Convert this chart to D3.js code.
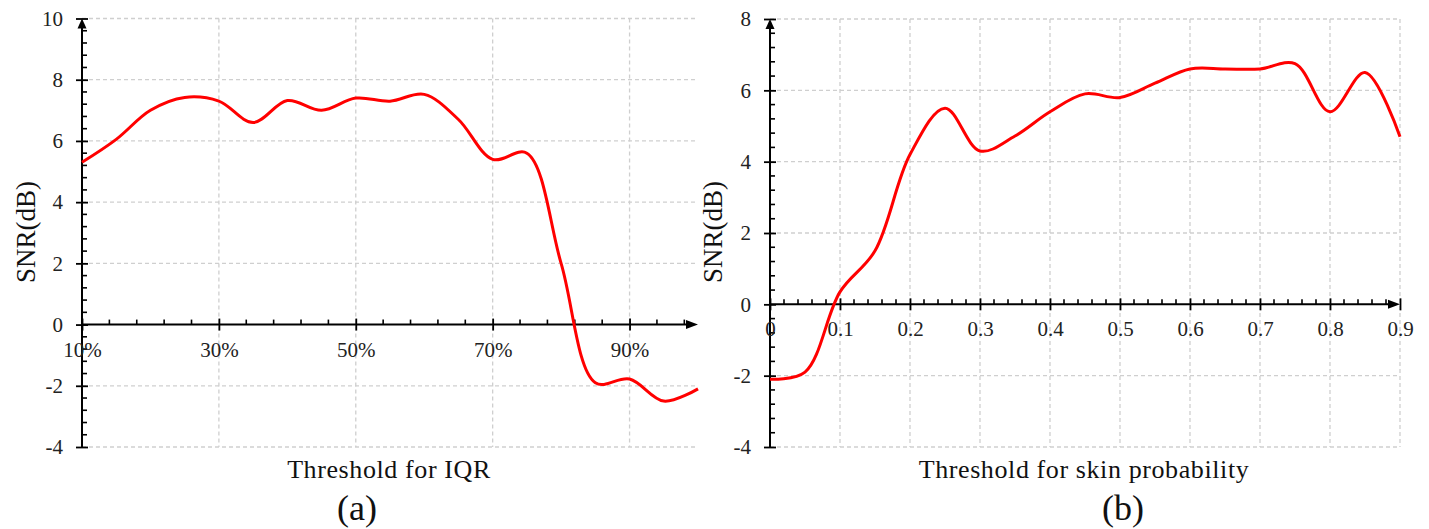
<!DOCTYPE html>
<html><head><meta charset="utf-8">
<script src="https://cdn.jsdelivr.net/npm/d3@7"></script>
<style>html,body{margin:0;padding:0;background:#fff;}svg{display:block;}</style>
</head><body>
<svg id="chart" width="1429" height="529"></svg>
<script>
// ---- Data: panel (a) ----
const iqrThreshold = [10,15,20,25,30,35,40,45,50,55,60,65,70,75,80,85,90,95,100];
const iqrSNR = [5.3,6.05,7.0,7.42,7.3,6.6,7.32,7.0,7.4,7.3,7.52,6.7,5.4,5.6,2.0,-1.9,-1.78,-2.5,-2.1];
const iqrXTicks = [10,30,50,70,90];
const iqrXTickLabels = ["10%","30%","50%","70%","90%"];
const iqrYTicks = [-4,-2,0,2,4,6,8,10];

// ---- Data: panel (b) ----
const skinThreshold = [0,0.05,0.1,0.15,0.2,0.25,0.3,0.35,0.4,0.45,0.5,0.55,0.6,0.65,0.7,0.75,0.8,0.85,0.9];
const skinSNR = [-2.1,-1.9,0.35,1.5,4.2,5.5,4.3,4.72,5.4,5.9,5.8,6.2,6.6,6.6,6.6,6.75,5.4,6.5,4.7];
const skinXTicks = [0,0.1,0.2,0.3,0.4,0.5,0.6,0.7,0.8,0.9];
const skinXTickLabels = ["0","0.1","0.2","0.3","0.4","0.5","0.6","0.7","0.8","0.9"];
const skinYTicks = [-4,-2,0,2,4,6,8];

const yLabel = "SNR(dB)";
const panels = [
  {xs: iqrThreshold, ys: iqrSNR, xDomain:[10,100], xRange:[82,698], yDomain:[-4,10], yRange:[447,18.5],
   xTicks: iqrXTicks, xLabels: iqrXTickLabels, xMinorStep: 4, yTicks: iqrYTicks, vGrid:[30,50,70,90],
   xTitle:"Threshold for IQR", xTitleX:389, tag:"(a)", tagX:357, yTitleX:26, xLabelDy:32},
  {xs: skinThreshold, ys: skinSNR, xDomain:[0,0.9], xRange:[770,1400], yDomain:[-4,8], yRange:[447,19],
   xTicks: skinXTicks, xLabels: skinXTickLabels, xMinorStep: 0.02, yTicks: skinYTicks, vGrid:[0.1,0.2,0.3,0.4,0.5,0.6,0.7,0.8,0.9],
   xTitle:"Threshold for skin probability", xTitleX:1084, tag:"(b)", tagX:1123, yTitleX:713, xLabelDy:32}
];

const svg = d3.select("#chart");
svg.append("rect").attr("width",1429).attr("height",529).attr("fill","#fff");
const font = "'Liberation Serif','Times New Roman',serif";

panels.forEach(p => {
  const x = d3.scaleLinear().domain(p.xDomain).range(p.xRange);
  const y = d3.scaleLinear().domain(p.yDomain).range(p.yRange);
  const g = svg.append("g");
  const x0 = p.xRange[0], x1 = p.xRange[1];
  const yTop = p.yRange[1], yBot = p.yRange[0];

  // grid
  const gridStyle = s => s.attr("stroke","#cfcfcf").attr("stroke-width",1.3).attr("stroke-dasharray","4,3");
  g.selectAll(".hg").data(p.yTicks.filter(v => v !== 0)).enter().append("line")
    .attr("x1",x0).attr("x2",x1).attr("y1",d=>y(d)).attr("y2",d=>y(d)).call(gridStyle);
  g.selectAll(".vg").data(p.vGrid).enter().append("line")
    .attr("x1",d=>x(d)).attr("x2",d=>x(d)).attr("y1",yTop).attr("y2",yBot).call(gridStyle);

  // minor ticks
  const yMinor = d3.range(p.yDomain[0], p.yDomain[1]+1e-9, 0.4).filter(v => Math.abs(v/2 - Math.round(v/2)) > 1e-6);
  g.append("g").selectAll("line").data(yMinor).enter().append("line")
    .attr("x1",x(p.xDomain[0])).attr("x2",x(p.xDomain[0])+5).attr("y1",d=>y(d)).attr("y2",d=>y(d))
    .attr("stroke","#000").attr("stroke-width",1.6);
  const nMinor = Math.round((p.xDomain[1]-p.xDomain[0])/p.xMinorStep);
  const xMinor = d3.range(1, nMinor+1).map(i => p.xDomain[0] + i*p.xMinorStep)
    .filter(v => !p.xTicks.some(t => Math.abs(t - v) < 1e-6) && v < p.xDomain[1]-1e-6);
  g.append("g").selectAll("line").data(xMinor).enter().append("line")
    .attr("x1",d=>x(d)).attr("x2",d=>x(d)).attr("y1",y(0)).attr("y2",y(0)-5)
    .attr("stroke","#000").attr("stroke-width",1.6);

  // y axis
  const ya = g.append("g").attr("transform",`translate(${x0},0)`)
    .call(d3.axisLeft(y).tickValues(p.yTicks).tickSize(6).tickPadding(13).tickFormat(d => String(d)));
  ya.attr("font-family",font);
  ya.select(".domain").remove();
  ya.selectAll(".tick line").attr("x1",6).attr("x2",-6).attr("stroke","#000").attr("stroke-width",1.8);
  ya.selectAll(".tick text").attr("font-family",font).attr("font-size",21).attr("fill","#222");
  g.append("line").attr("x1",x0).attr("x2",x0).attr("y1",yBot).attr("y2",yTop+4)
    .attr("stroke","#000").attr("stroke-width",2);
  g.append("path").attr("d",`M${x0},${yTop} L${x0-4.5},${yTop+10} L${x0+4.5},${yTop+10} Z`).attr("fill","#000");

  // x axis
  const xa = g.append("g").attr("transform",`translate(0,${y(0)})`)
    .call(d3.axisBottom(x).tickValues(p.xTicks).tickSize(6).tickFormat((d,i)=>p.xLabels[i]));
  xa.attr("font-family",font);
  xa.select(".domain").remove();
  xa.selectAll(".tick line").attr("y1",-6).attr("y2",6).attr("stroke","#000").attr("stroke-width",1.8);
  xa.selectAll(".tick text").attr("font-family",font).attr("font-size",21).attr("fill","#222")
    .attr("y",p.xLabelDy).attr("dy",0);
  g.append("line").attr("x1",x0).attr("x2",x1-4).attr("y1",y(0)).attr("y2",y(0))
    .attr("stroke","#000").attr("stroke-width",2);
  g.append("path").attr("d",`M${x1},${y(0)} L${x1-12},${y(0)-4.5} L${x1-12},${y(0)+4.5} Z`).attr("fill","#000");

  // line
  const line = d3.line().x((d,i)=>x(p.xs[i])).y(d=>y(d)).curve(d3.curveCatmullRom.alpha(0.5));
  g.append("path").datum(p.ys).attr("d",line).attr("fill","none").attr("stroke","#ff0000").attr("stroke-width",3);

  // titles
  g.append("text").attr("x",p.xTitleX).attr("y",478).attr("text-anchor","middle")
    .attr("font-family",font).attr("font-size",26).attr("fill","#111").attr("letter-spacing",0.6).text(p.xTitle);
  g.append("text").attr("x",p.tagX).attr("y",520).attr("text-anchor","middle")
    .attr("font-family",font).attr("font-size",36).attr("fill","#111").text(p.tag);
  g.append("text").attr("transform",`translate(${p.yTitleX+9},232) rotate(-90)`).attr("text-anchor","middle")
    .attr("font-family",font).attr("font-size",27).attr("fill","#111").text(yLabel);
});
</script>
</body></html>
